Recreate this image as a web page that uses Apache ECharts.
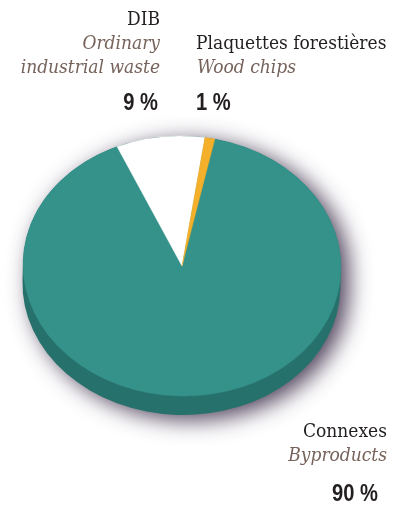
<!DOCTYPE html>
<html>
<head>
<meta charset="utf-8">
<style>
  html, body { margin: 0; padding: 0; background: #ffffff; }
  #chart { width: 394px; height: 505px; }
</style>
<script src="https://cdn.jsdelivr.net/npm/echarts@6/dist/echarts.min.js"></script>
</head>
<body>
<div id="chart"></div>
<script>
// Wood resource shares (percent)
const categories = ['Connexes', 'DIB', 'Plaquettes forestières'];
const englishNames = ['Byproducts', 'Ordinary\nindustrial waste', 'Wood chips'];
const shares = [90, 9, 1];
const percentLabels = ['90 %', '9 %', '1 %'];
const sliceColors = ['#35928a', '#ffffff', '#f4b02a'];

// Pie geometry (tilted disc)
const CX = 182, CY = 266;        // disc centre
const RX = 159, RY = 130;        // horizontal / vertical radii of the top face
const DEPTH = 19;                // thickness of the disc edge
const TILT = -0.03;              // slight clockwise tilt of the disc
const START_DEG = -25.5;         // first slice start, degrees clockwise from 12 o'clock
const SIDE_COLOR = '#27716c';

const total = shares.reduce((a, b) => a + b, 0);
// DIB and Plaquettes sit at the top; Connexes fills the rest clockwise
const order = [1, 2, 0];

const chart = echarts.init(document.getElementById('chart'), null, { renderer: 'canvas' });

function renderSlice(params, api) {
  const idx = params.dataIndex;
  // cumulative start angle of this slice, following the drawing order
  let acc = 0;
  for (const k of order) {
    if (k === idx) break;
    acc += shares[k];
  }
  const value = api.value(1);
  const a0 = START_DEG + acc / total * 360;
  const a1 = a0 + value / total * 360;
  const toRad = d => (d - 90) * Math.PI / 180;

  const children = [];
  if (idx === 0) {
    // edge of the disc with its soft drop shadow
    const path = `M ${-RX} 0 L ${-RX} ${DEPTH} A ${RX} ${RY} 0 0 0 ${RX} ${DEPTH} L ${RX} 0 A ${RX} ${RY} 0 0 0 ${-RX} 0 Z`;
    children.push({
      type: 'path',
      shape: { pathData: path },
      style: {
        fill: SIDE_COLOR,
        shadowBlur: 22,
        shadowColor: 'rgba(50,35,65,0.85)',
        shadowOffsetX: 8,
        shadowOffsetY: 5
      }
    });
  }
  children.push({
    type: 'group',
    scaleY: RY / RX,
    children: [{
      type: 'sector',
      shape: { cx: 0, cy: 0, r0: 0, r: RX, startAngle: toRad(a0), endAngle: toRad(a1), clockwise: true },
      style: { fill: sliceColors[idx], stroke: sliceColors[idx], lineWidth: 0.5 }
    }]
  });
  return {
    type: 'group',
    x: CX,
    y: CY,
    rotation: TILT,
    children: children
  };
}

const serif = '"DejaVu Serif Condensed", "DejaVu Serif", serif';
const bold = '"Liberation Sans", Arial, sans-serif';
const DARK = '#231f20';
const BROWN = '#76635b';

function txt(text, x, y, align, font, color, sx) {
  return {
    type: 'text',
    x: x, y: y,
    scaleX: sx || 1,
    style: { text: text, font: font, fill: color, align: align, verticalAlign: 'middle' },
    silent: true
  };
}

const englishLines = englishNames[1].split('\n');
const labels = [
  txt(categories[1], 160, 20, 'right', '19px ' + serif, DARK),
  txt(englishLines[0], 160, 44, 'right', 'italic 19px ' + serif, BROWN),
  txt(englishLines[1], 160, 68, 'right', 'italic 19px ' + serif, BROWN),
  txt(percentLabels[1], 158, 103, 'right', 'bold 24px ' + bold, DARK, 0.84),

  txt(categories[2], 196, 44, 'left', '19px ' + serif, DARK),
  txt(englishNames[2], 197, 68, 'left', 'italic 19px ' + serif, BROWN),
  txt(percentLabels[2], 196, 103, 'left', 'bold 24px ' + bold, DARK, 0.84),

  txt(categories[0], 387, 432, 'right', '19px ' + serif, DARK),
  txt(englishNames[0], 387, 456, 'right', 'italic 19px ' + serif, BROWN),
  txt(percentLabels[0], 378, 494, 'right', 'bold 24px ' + bold, DARK, 0.84)
];

chart.setOption({
  animation: false,
  backgroundColor: '#ffffff',
  series: [{
    type: 'custom',
    coordinateSystem: 'none',
    renderItem: renderSlice,
    data: categories.map((c, i) => [c, shares[i]]),
    silent: true
  }],
  graphic: labels
});
</script>
</body>
</html>
